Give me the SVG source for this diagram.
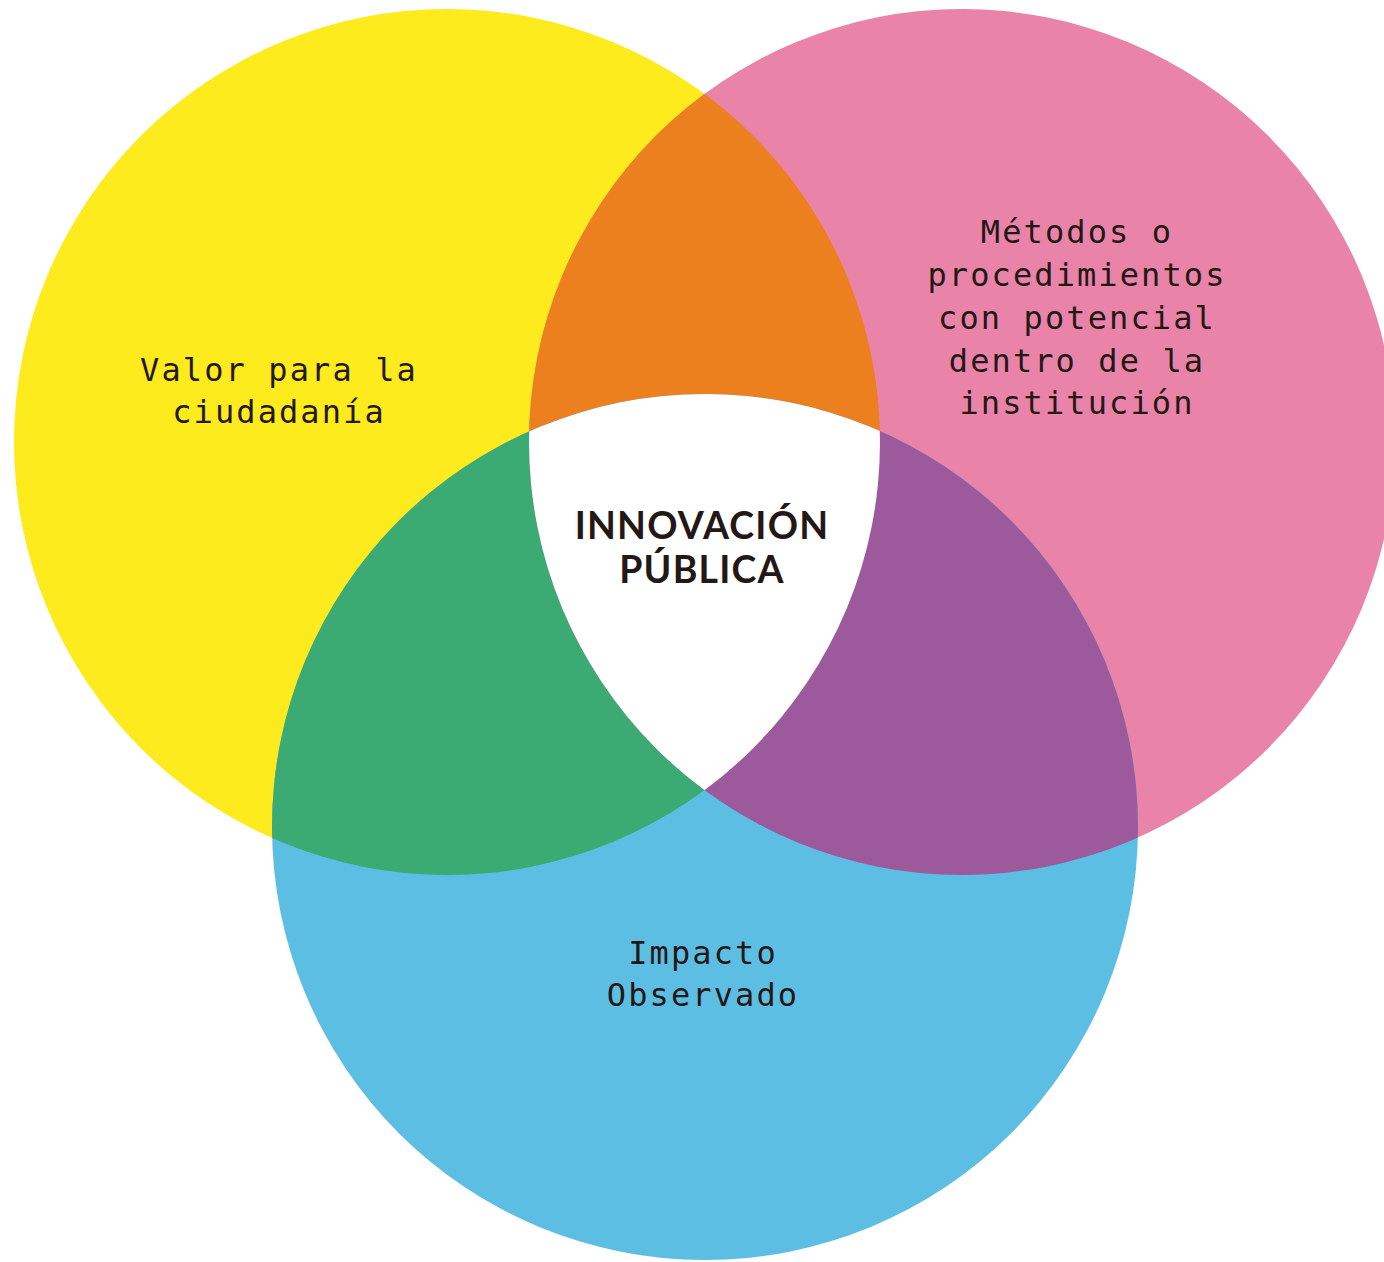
<svg xmlns="http://www.w3.org/2000/svg" width="1384" height="1262" viewBox="0 0 1384 1262">
<style>
.lbl{font-family:"DejaVu Sans Mono","Liberation Mono",monospace;font-size:32px;letter-spacing:2.1px;fill:#231815;text-anchor:middle}
.ctr{font-family:Lato,"Open Sans","Liberation Sans",sans-serif;font-weight:700;font-size:37.5px;letter-spacing:1.2px;fill:#231815;text-anchor:middle}
</style>
<defs>
<clipPath id="cy"><circle cx="447" cy="442" r="433"/></clipPath>
<clipPath id="cp"><circle cx="962" cy="442" r="433"/></clipPath>
</defs>
<rect width="1384" height="1262" fill="#ffffff"/>
<g id="valor">
<circle cx="447" cy="442" r="433" fill="#FEEB1E"/>
</g>
<g id="metodos">
<circle cx="962" cy="442" r="433" fill="#E983A8"/>
</g>
<g id="impacto">
<circle cx="705" cy="827" r="433" fill="#5DBEE3"/>
</g>
<g id="overlaps">
<circle cx="962" cy="442" r="433" fill="#EC7F1E" clip-path="url(#cy)"/>
<circle cx="705" cy="827" r="433" fill="#3BAA73" clip-path="url(#cy)"/>
<circle cx="705" cy="827" r="433" fill="#9C5A9C" clip-path="url(#cp)"/>
<g clip-path="url(#cy)"><circle cx="705" cy="827" r="433" fill="#ffffff" clip-path="url(#cp)"/></g>
</g>
<g id="valor-label">
<text class="lbl" x="279" y="381">Valor para la</text>
<text class="lbl" x="279" y="423">ciudadanía</text>
</g>
<g id="metodos-label">
<text class="lbl" x="1077" y="243">Métodos o</text>
<text class="lbl" x="1077" y="286">procedimientos</text>
<text class="lbl" x="1077" y="329">con potencial</text>
<text class="lbl" x="1077" y="372">dentro de la</text>
<text class="lbl" x="1077" y="414">institución</text>
</g>
<g id="impacto-label">
<text class="lbl" x="703" y="964">Impacto</text>
<text class="lbl" x="703" y="1006">Observado</text>
</g>
<g id="innovacion">
<text class="ctr" x="702" y="539">INNOVACIÓN</text>
<text class="ctr" x="702" y="583">PÚBLICA</text>
</g>
</svg>
